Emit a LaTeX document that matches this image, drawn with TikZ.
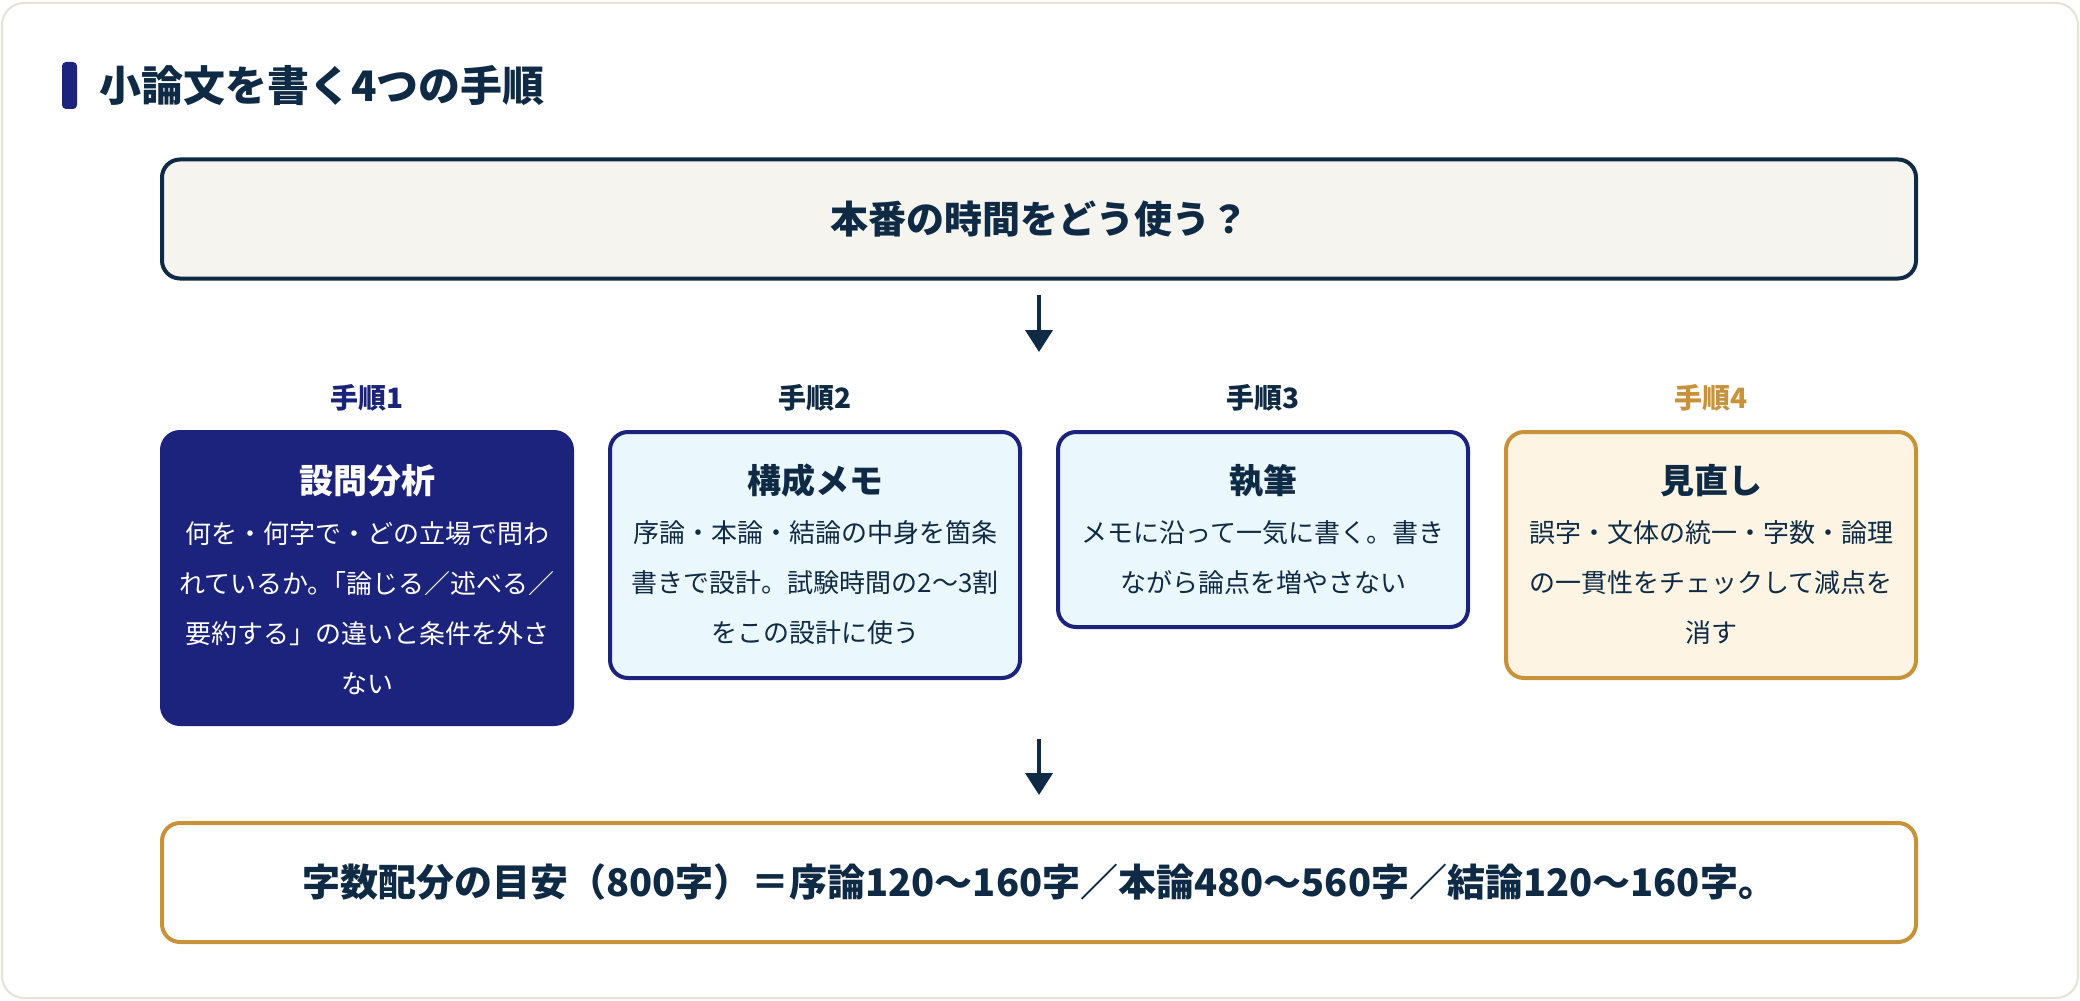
\documentclass[tikz,border=0pt]{standalone}
\usepackage{fontspec}
\setmainfont{Noto Sans CJK JP}
\usetikzlibrary{arrows.meta}
\definecolor{ink}{HTML}{0F2A44}
\definecolor{navy}{HTML}{1C237C}
\definecolor{gold}{HTML}{C8923A}
\definecolor{sky}{HTML}{EAF7FC}
\definecolor{cream}{HTML}{FDF4E3}
\definecolor{paper}{HTML}{F5F4EF}
\definecolor{framec}{HTML}{E5E2D6}

\begin{document}
\begin{tikzpicture}[x=0.5pt,y=-0.5pt,
                    wide/.style={draw, line width=2pt, rounded corners=9pt,
                                 minimum width=877pt, minimum height=59.5pt, text=ink,
                                 font=\bfseries\fontsize{19}{22}\selectfont},
                    stepbox/.style={draw, line width=2pt, rounded corners=9pt,
                                    minimum width=205pt, anchor=north, inner sep=0pt},
                    steplabel/.style={font=\bfseries\fontsize{14}{16}\selectfont},
                    boxtitle/.style={font=\bfseries\fontsize{17}{20}\selectfont},
                    boxtext/.style={font=\fontsize{13}{25}\selectfont, align=center},
                    arr/.style={draw=ink, line width=2pt,
                                -{Triangle[length=11pt,width=13.5pt]}}]
  \useasboundingbox (0,0) rectangle (2080,1000);
  \draw[framec, line width=1pt, fill=white, rounded corners=11pt] (2,3) rectangle (2078,998);

  % heading
  \fill[navy, rounded corners=2pt] (62,62) rectangle (77,109);
  \node[anchor=west, inner sep=0pt, text=ink,
        font=\bfseries\fontsize{21}{24}\selectfont] (title) at (99,86) {小論文を書く4つの手順};

  % question
  \node[wide, draw=ink, fill=paper] (q) at (1039,219) {本番の時間をどう使う？};
  \coordinate (a1) at (1039,352);
  \draw[arr, shorten <=7pt] (q) -- (a1);

  % step 1
  \node[steplabel, text=navy] (l1) at (367,398) {手順1};
  \node[stepbox, draw=navy, fill=navy, minimum height=146pt] (s1) at (367,430) {};
  \node[boxtitle, text=white] (t1) at (367,481) {設問分析};
  \node[boxtext, text=white] (d1) at (367,608) {何を・何字で・どの立場で問わ\\れているか。\kern-0.5em「論じる／述べる／\\要約する」の違いと条件を外さ\\ない};

  % step 2
  \node[steplabel, text=ink] (l2) at (815,398) {手順2};
  \node[stepbox, draw=navy, fill=sky, minimum height=123pt] (s2) at (815,430) {};
  \node[boxtitle, text=ink] (t2) at (815,481) {構成メモ};
  \node[boxtext, text=ink] (d2) at (815,583) {序論・本論・結論の中身を箇条\\書きで設計。試験時間の2〜3割\\をこの設計に使う};

  % step 3
  \node[steplabel, text=ink] (l3) at (1263,398) {手順3};
  \node[stepbox, draw=navy, fill=sky, minimum height=97.5pt] (s3) at (1263,430) {};
  \node[boxtitle, text=ink] (t3) at (1263,481) {執筆};
  \node[boxtext, text=ink] (d3) at (1263,558) {メモに沿って一気に書く。書き\\ながら論点を増やさない};

  % step 4
  \node[steplabel, text=gold] (l4) at (1711,398) {手順4};
  \node[stepbox, draw=gold, fill=cream, minimum height=123pt] (s4) at (1711,430) {};
  \node[boxtitle, text=ink] (t4) at (1711,481) {見直し};
  \node[boxtext, text=ink] (d4) at (1711,583) {誤字・文体の統一・字数・論理\\の一貫性をチェックして減点を\\消す};

  % summary
  \coordinate (a2) at (1039,739);
  \node[wide, draw=gold, fill=white] (sum) at (1039,882.5) {字数配分の目安（800字）＝序論120〜160字／本論480〜560字／結論120〜160字。};
  \draw[arr, shorten >=13pt] (a2) -- (sum);
\end{tikzpicture}
\end{document}
